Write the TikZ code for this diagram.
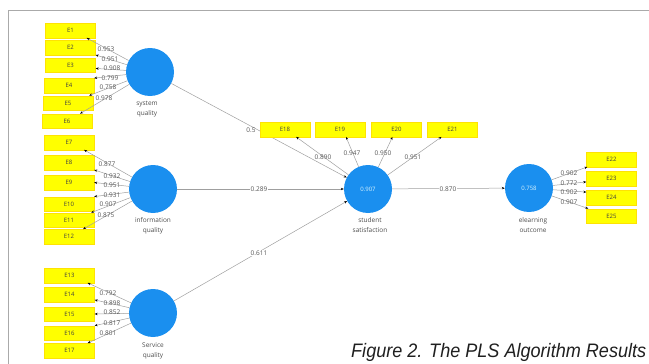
\documentclass[tikz,border=0pt]{standalone}
\usepackage{graphicx}
\usepackage{fontspec}
\setmainfont{Open Sans}
\newfontfamily\capfont{Liberation Sans}
\usetikzlibrary{arrows.meta,calc}
\definecolor{lvblue}{HTML}{1A8FEF}
\definecolor{indy}{HTML}{FFFF00}
\definecolor{lbl}{HTML}{555555}
\definecolor{frame}{HTML}{AAAAAA}
\begin{document}
\begin{tikzpicture}[x=1pt,y=-1pt,
  lv/.style={circle, fill=lvblue, minimum size=48pt, inner sep=0pt, font=\fontsize{6}{6}\selectfont, text=cyan!15},
  ind/.style={rectangle, fill=indy, draw=yellow!85!orange, line width=0.3pt, minimum width=50pt, minimum height=14.5pt, inner sep=0pt, font=\fontsize{6}{6}\selectfont, text=black!75},
  lnk/.style={draw=gray!75, line width=0.5pt, -{Stealth[length=3pt,width=2.4pt,black]}},
  num/.style={font=\fontsize{6.5}{6.5}\selectfont, text=lbl, inner sep=0.5pt},
  pc/.style={num, fill=white, inner sep=1pt},
  lvname/.style={font=\fontsize{6.5}{10}\selectfont, text=black!70, align=center}]
\useasboundingbox (0,0) rectangle (649,364);
\draw[frame, line width=0.8pt] (8,364) -- (8,10) -- (649,10);

% latent variables
\node[lv] (sq) at (150,72) {};
\node[lv] (iq) at (153,189) {};
\node[lv] (svq) at (153,313) {};
\node[lv] (ss) at (368,189) {0.907};
\node[lv] (eo) at (529,188) {0.758};

\node[lvname] (sqn) at (147,109) {system\\quality};
\node[lvname] (iqn) at (153,225.5) {information\\quality};
\node[lvname] (svqn) at (153,350.5) {Service\\quality};
\node[lvname] (ssn) at (370,225.5) {student\\satisfaction};
\node[lvname] (eon) at (533,225) {elearning\\outcome};

% indicators
\node[ind] (E1) at (70.5,30.5) {E1};
\node[ind] (E2) at (70.5,47.5) {E2};
\node[ind] (E3) at (70.5,65) {E3};
\node[ind] (E4) at (69,85.5) {E4};
\node[ind] (E5) at (68,103) {E5};
\node[ind] (E6) at (67,121) {E6};
\node[ind] (E7) at (69,142.5) {E7};
\node[ind] (E8) at (69,162.5) {E8};
\node[ind] (E9) at (69,182.5) {E9};
\node[ind] (E10) at (69,204) {E10};
\node[ind] (E11) at (69,220) {E11};
\node[ind] (E12) at (69,236.5) {E12};
\node[ind] (E13) at (69.5,275.5) {E13};
\node[ind] (E14) at (69.5,294.5) {E14};
\node[ind] (E15) at (69.5,314) {E15};
\node[ind] (E16) at (69.5,333) {E16};
\node[ind] (E17) at (69.5,350.5) {E17};
\node[ind] (E18) at (285,129.5) {E18};
\node[ind] (E19) at (340,129.5) {E19};
\node[ind] (E20) at (396.5,129.5) {E20};
\node[ind] (E21) at (452.5,129.5) {E21};
\node[ind] (E22) at (611.5,159.5) {E22};
\node[ind] (E23) at (611.5,178.5) {E23};
\node[ind] (E24) at (611.5,197.5) {E24};
\node[ind] (E25) at (611.5,216) {E25};

% structural paths
\draw[lnk] (sq) -- (ss);
\draw[lnk] (iq) -- (ss);
\draw[lnk] (svq) -- (ss);
\draw[lnk] (ss) -- (eo);
\node[num] (p1) at (251,130) {0.5};
\node[pc] (p2) at (259,189) {0.289};
\node[pc] (p3) at (259,253) {0.611};
\node[pc] (p4) at (448,189) {0.870};
\node[ind] at (E18) {E18};

% system quality loadings
\draw[lnk] (sq) -- ([xshift=-9pt]E1.south east);
\draw[lnk] (sq) -- (E2.south east);
\draw[lnk] (sq) -- ([yshift=4pt]E3.south east);
\draw[lnk] (sq) -- (E4.north east);
\draw[lnk] (sq) -- ([xshift=-4pt]E5.north east);
\draw[lnk] (sq) -- ([xshift=-12pt]E6.north east);
\node[num] (l1) at (106,49) {0.953};
\node[num] (l2) at (110,59) {0.951};
\node[num] (l3) at (112,68) {0.908};
\node[num] (l4) at (110,78) {0.799};
\node[num] (l5) at (108,87) {0.758};
\node[num] (l6) at (104,98) {0.978};

% information quality loadings
\draw[lnk] (iq) -- ([xshift=-10pt]E7.south east);
\draw[lnk] (iq) -- (E8.south east);
\draw[lnk] (iq) -- (E9.east);
\draw[lnk] (iq) -- (E10.north east);
\draw[lnk] (iq) -- ([xshift=-3pt]E11.north east);
\draw[lnk] (iq) -- ([xshift=-11pt]E12.north east);
\node[num] (l7) at (107,164) {0.877};
\node[num] (l8) at (112,176) {0.932};
\node[num] (l9) at (112,185) {0.951};
\node[num] (l10) at (112,195) {0.931};
\node[num] (l11) at (108,204) {0.907};
\node[num] (l12) at (106,215) {0.875};

% service quality loadings
\draw[lnk] (svq) -- ([xshift=-7pt]E13.south east);
\draw[lnk] (svq) -- ([yshift=2pt]E14.south east);
\draw[lnk] (svq) -- (E15.east);
\draw[lnk] (svq) -- (E16.north east);
\draw[lnk] (svq) -- ([xshift=-7pt]E17.north east);
\node[num] (l13) at (108,293) {0.792};
\node[num] (l14) at (112,303) {0.898};
\node[num] (l15) at (112,312) {0.852};
\node[num] (l16) at (112,323) {0.817};
\node[num] (l17) at (108,333) {0.801};

% student satisfaction loadings
\draw[lnk] (ss) -- ([xshift=-14pt]E18.south east);
\draw[lnk] (ss) -- ([xshift=6pt]E19.south);
\draw[lnk] (ss) -- ([xshift=-4pt]E20.south);
\draw[lnk] (ss) -- ([xshift=-11pt]E21.south);
\node[num] (l18) at (323,157) {0.890};
\node[num] (l19) at (352,153) {0.947};
\node[num] (l20) at (383,153) {0.950};
\node[num] (l21) at (413,157) {0.951};

% elearning outcome loadings
\draw[lnk] (eo) -- ([xshift=1pt]E22.south west);
\draw[lnk] (eo) -- ([yshift=4pt]E23.south west);
\draw[lnk] (eo) -- ([yshift=-2pt]E24.north west);
\draw[lnk] (eo) -- ([xshift=2pt]E25.north west);
\node[num] (l22) at (569,173) {0.902};
\node[num] (l23) at (569,183) {0.772};
\node[num] (l24) at (569,192.5) {0.902};
\node[num] (l25) at (569,202) {0.907};

% caption
\node[anchor=base west, inner sep=0pt, text=black!88] (cap) at (351,357)
  {\resizebox{295pt}{\height}{\capfont\itshape\fontsize{19.5}{19.5}\selectfont Figure 2. The PLS Algorithm Results}};
\end{tikzpicture}
\end{document}
